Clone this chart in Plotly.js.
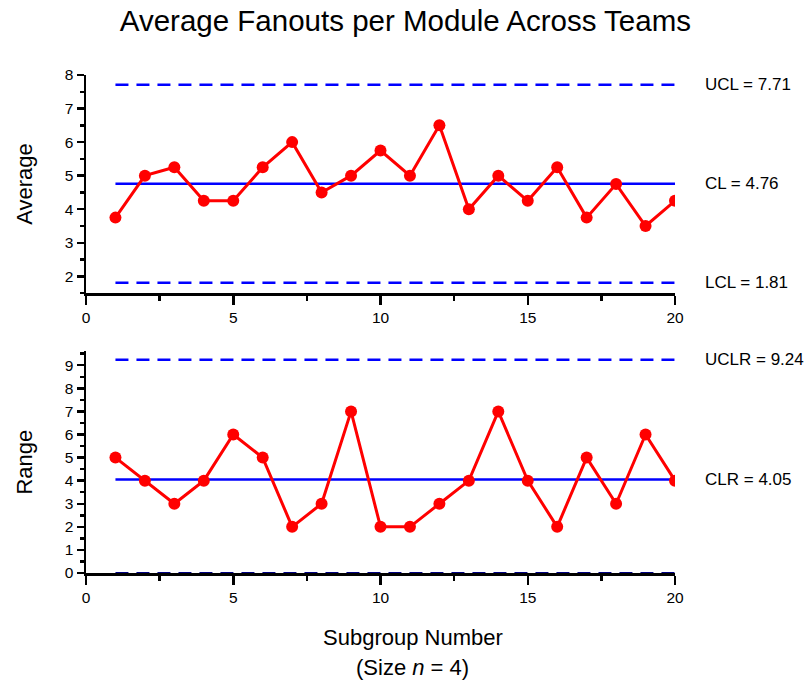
<!DOCTYPE html>
<html>
<head>
<meta charset="utf-8">
<script src="https://cdn.plot.ly/plotly-3.0.1.min.js"></script>
<style>html,body{margin:0;padding:0;background:#fff}#chart{width:806px;height:683px}</style>
</head>
<body>
<div id="chart"></div>
<script>
// Data
const subgroups = [1,2,3,4,5,6,7,8,9,10,11,12,13,14,15,16,17,18,19,20];
const averages = [3.75,5.0,5.25,4.25,4.25,5.25,6.0,4.5,5.0,5.75,5.0,6.5,4.0,5.0,4.25,5.25,3.75,4.75,3.5,4.25];
const ranges = [5,4,3,4,6,5,2,3,7,2,2,3,4,7,4,2,5,3,6,4];
const UCL = 7.71, CL = 4.76, LCL = 1.81;
const UCLR = 9.24, CLR = 4.05, LCLR = 0;
const limitLabels = ["UCL = 7.71","CL = 4.76","LCL = 1.81","UCLR = 9.24","CLR = 4.05"];

const xs = [subgroups[0], subgroups[subgroups.length-1]];
const blue = '#0000ff', red = '#ff0000';
const dashPat = '13px,8px';
function hline(y, xa, ya, dash, color, w){
  return {x: xs, y:[y,y], xaxis:xa, yaxis:ya, mode:'lines', line:{color:color||blue, width:w||2.5, dash:dash}, hoverinfo:'skip', showlegend:false};
}
const traces = [
  hline(UCL,'x','y',dashPat), hline(CL,'x','y','solid'), hline(LCL,'x','y',dashPat),
  {x:subgroups, y:averages, xaxis:'x', yaxis:'y', mode:'lines+markers', line:{color:red,width:3}, marker:{color:red,size:12}, showlegend:false, hoverinfo:'skip'},
  hline(UCLR,'x2','y2',dashPat), hline(CLR,'x2','y2','solid'), hline(LCLR,'x2','y2',dashPat,'#000080',2),
  {x:subgroups, y:ranges, xaxis:'x2', yaxis:'y2', mode:'lines+markers', line:{color:red,width:3}, marker:{color:red,size:12}, showlegend:false, hoverinfo:'skip'}
];

const fam = '"Liberation Sans", Arial, sans-serif';
const axCommon = {showgrid:false, zeroline:false, showline:true, linecolor:'#000', linewidth:2.5, ticks:'outside', tickcolor:'#000', tickwidth:2.5, ticklen:9, tickfont:{size:15.5, family:fam, color:'#000'}};
const xCommon = Object.assign({}, axCommon, {range:[0,20], dtick:5, tick0:0, minor:{dtick:2.5, ticks:'outside', ticklen:5, tickwidth:2.5, tickcolor:'#000'}});

const layout = {
  width:806, height:683,
  margin:{l:86, r:131, t:75, b:110},
  paper_bgcolor:'#fff', plot_bgcolor:'#fff',
  font: {family:fam, color:'#000'},
  title:{text:'Average Fanouts per Module Across Teams', font:{size:29.5, family:fam, color:'#000'}, x:0.503, xanchor:'center', y:0.97, yanchor:'middle'},
  xaxis: Object.assign({}, xCommon, {domain:[0,1], anchor:'y'}),
  yaxis: Object.assign({}, axCommon, {domain:[0.562,1], range:[1.5,8], dtick:1, tick0:0, anchor:'x', ticklen:7,
    minor:{dtick:0.5, ticks:'outside', ticklen:4, tickwidth:2.5, tickcolor:'#000'},
    title:{text:'Average', font:{size:22, family:fam, color:'#000'}, standoff:26}}),
  xaxis2: Object.assign({}, xCommon, {domain:[0,1], anchor:'y2'}),
  yaxis2: Object.assign({}, axCommon, {domain:[0,0.445], range:[0,9.6], dtick:1, tick0:0, anchor:'x2', ticklen:7,
    minor:{dtick:0.5, ticks:'outside', ticklen:4, tickwidth:2.5, tickcolor:'#000'},
    title:{text:'Range', font:{size:22, family:fam, color:'#000'}, standoff:26}}),
  annotations: [
    {text:limitLabels[0], x:1.0475, xref:'paper', y:UCL, yref:'y', xanchor:'left', showarrow:false, font:{size:17, family:fam}},
    {text:limitLabels[1], x:1.0475, xref:'paper', y:CL, yref:'y', xanchor:'left', showarrow:false, font:{size:17, family:fam}},
    {text:limitLabels[2], x:1.0475, xref:'paper', y:LCL, yref:'y', xanchor:'left', showarrow:false, font:{size:17, family:fam}},
    {text:limitLabels[3], x:1.0475, xref:'paper', y:UCLR, yref:'y2', xanchor:'left', showarrow:false, font:{size:17, family:fam}},
    {text:limitLabels[4], x:1.0475, xref:'paper', y:CLR, yref:'y2', xanchor:'left', showarrow:false, font:{size:17, family:fam}},
    {text:'Subgroup Number', x:0.555, xref:'paper', y:-0.13, yref:'paper', showarrow:false, font:{size:22, family:fam}, yanchor:'middle'},
    {text:'(Size <i>n</i> = 4)', x:0.555, xref:'paper', y:-0.19, yref:'paper', showarrow:false, font:{size:22, family:fam}, yanchor:'middle'}
  ]
};
Plotly.newPlot('chart', traces, layout, {staticPlot:true, displayModeBar:false});
</script>
</body>
</html>
